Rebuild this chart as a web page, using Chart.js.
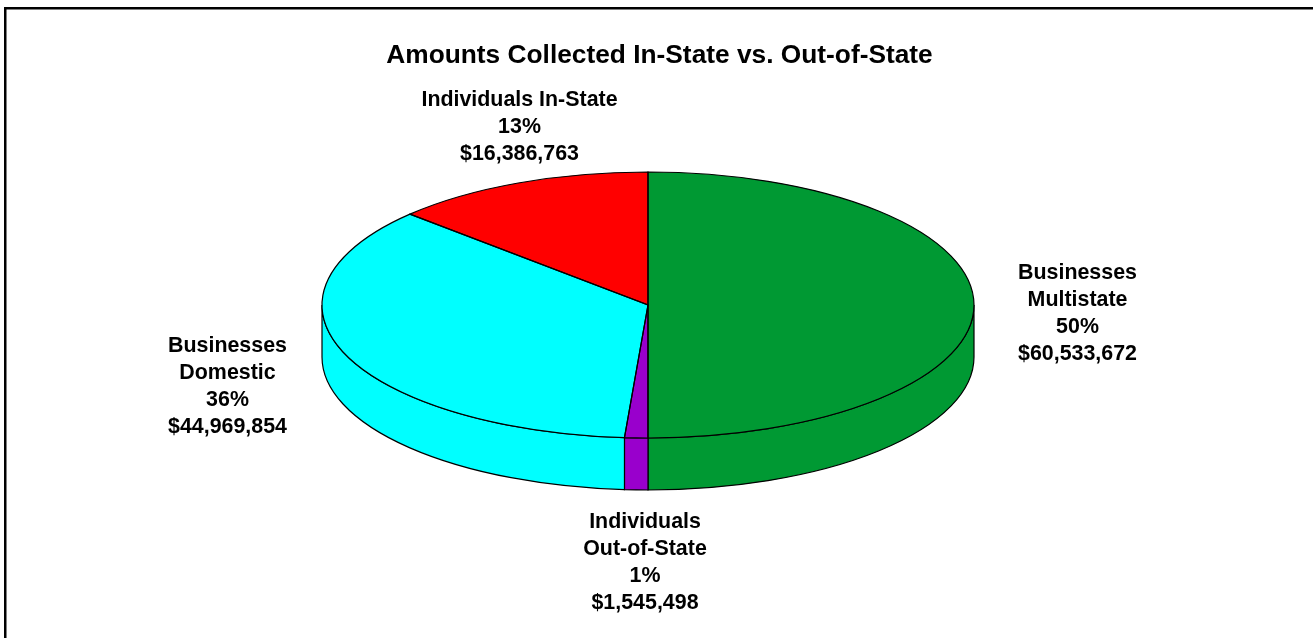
<!DOCTYPE html>
<html><head><meta charset="utf-8">
<style>html,body{margin:0;padding:0;background:#fff}#w{position:absolute;left:0;top:0;width:1313px;height:638px}</style>
<script src="https://cdn.jsdelivr.net/npm/chart.js@4"></script>
</head><body><div id="w"><canvas id="c" width="1313" height="638"></canvas></div>
<script>
const titleText = 'Amounts Collected In-State vs. Out-of-State';
const categories = ['Businesses Multistate','Individuals Out-of-State','Businesses Domestic','Individuals In-State'];
const labelLines = [['Businesses','Multistate'],['Individuals','Out-of-State'],['Businesses','Domestic'],['Individuals In-State']];
const percentLabels = ['50%','1%','36%','13%'];
const amountLabels = ['$60,533,672','$1,545,498','$44,969,854','$16,386,763'];
const sliceShares = [50, 1.15, 35.82, 13.03];
const sliceColors = ['#009933','#9900CC','#00FFFF','#FF0000'];

const CX = 648, CY = 305, RX = 326, RY = 133, DEPTH = 52;
const labelPlaces = [[1077.5,273],[645,522.5],[227.5,346],[519.5,100.5]];
const LINE_H = 27;

const pie3d = {
  id:'pie3d',
  beforeDatasetsDraw(chart){
    const ctx = chart.ctx, arcs = chart.getDatasetMeta(0).data;
    const ky = RY/RX;
    arcs.forEach((a,i)=>{
      const s = Math.max(a.startAngle,0), e = Math.min(a.endAngle,Math.PI);
      if(e<=s) return;
      ctx.save();
      ctx.beginPath();
      ctx.ellipse(a.x,a.y,a.outerRadius,a.outerRadius*ky,0,s,e);
      ctx.ellipse(a.x,a.y+DEPTH,a.outerRadius,a.outerRadius*ky,0,e,s,true);
      ctx.closePath();
      ctx.fillStyle = sliceColors[i]; ctx.fill();
      ctx.strokeStyle='#000'; ctx.lineWidth=1.2; ctx.stroke();
      ctx.restore();
    });
    ctx.save();
    const p = arcs[0];
    ctx.translate(p.x,p.y); ctx.scale(1,ky); ctx.translate(-p.x,-p.y);
  },
  afterDatasetsDraw(chart){
    const ctx = chart.ctx, arcs = chart.getDatasetMeta(0).data;
    ctx.restore();
    const ky = RY/RX;
    ctx.save();
    ctx.strokeStyle='#000'; ctx.lineWidth=1.2;
    arcs.forEach(a=>{
      ctx.beginPath();
      ctx.moveTo(a.x,a.y);
      ctx.ellipse(a.x,a.y,a.outerRadius,a.outerRadius*ky,0,a.startAngle,a.endAngle);
      ctx.closePath();
      ctx.stroke();
    });
    ctx.fillStyle='#000'; ctx.textAlign='center'; ctx.textBaseline='middle';
    ctx.font='bold 21.4px "Liberation Sans", Arial, sans-serif';
    categories.forEach((_,i)=>{
      const lines=[...labelLines[i],percentLabels[i],amountLabels[i]];
      const [x,top]=labelPlaces[i];
      lines.forEach((t,j)=>ctx.fillText(t,x,top+j*LINE_H));
    });
    ctx.restore();
  }
};
const frame = {
  id:'frame',
  beforeDraw(chart){
    const ctx=chart.ctx;
    ctx.save(); ctx.fillStyle='#000';
    ctx.fillRect(4,7,1309,2.5);
    ctx.fillRect(4,7,2.5,631);
    ctx.restore();
  }
};
new Chart(document.getElementById('c'),{
  type:'pie',
  data:{labels:categories,datasets:[{data:sliceShares,backgroundColor:sliceColors,borderWidth:0,radius:RX,clip:false}]},
  options:{
    responsive:false,animation:false,
    rotation:0,
    layout:{padding:{left:0,right:1313-CX*2,top:0,bottom:638-CY*2}},
    plugins:{legend:{display:false},tooltip:{enabled:false},title:{display:false}}
  },
  plugins:[frame,pie3d,{
    id:'heading',
    afterDraw(chart){
      const ctx=chart.ctx; ctx.save();
      ctx.fillStyle='#000';ctx.textAlign='center';ctx.textBaseline='middle';
      ctx.font='bold 26.3px "Liberation Sans", Arial, sans-serif';
      ctx.fillText(titleText,659.5,55.5);
      ctx.restore();
    }
  }]
});
</script></body></html>
